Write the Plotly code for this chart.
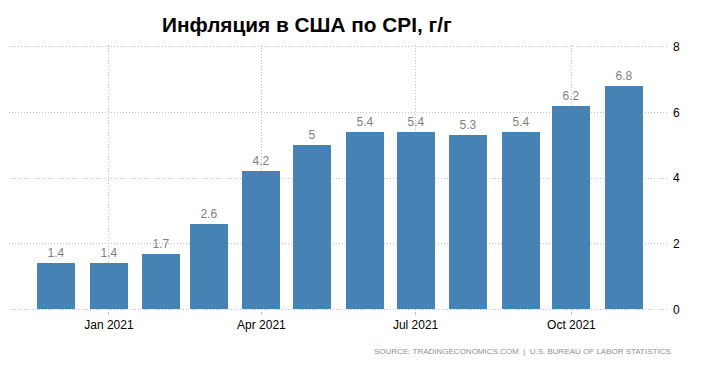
import plotly.graph_objects as go

months = ["2020-12-01", "2021-01-01", "2021-02-01", "2021-03-01", "2021-04-01", "2021-05-01",
          "2021-06-01", "2021-07-01", "2021-08-01", "2021-09-01", "2021-10-01", "2021-11-01"]
values = [1.4, 1.4, 1.7, 2.6, 4.2, 5, 5.4, 5.4, 5.3, 5.4, 6.2, 6.8]
labels = ["1.4", "1.4", "1.7", "2.6", "4.2", "5", "5.4", "5.4", "5.3", "5.4", "6.2", "6.8"]
tick_dates = ["2021-01-01", "2021-04-01", "2021-07-01", "2021-10-01"]
tick_labels = ["Jan 2021", "Apr 2021", "Jul 2021", "Oct 2021"]
y_ticks = [0, 2, 4, 6, 8]

DAY_MS = 86400000
FONT = "Liberation Sans, Arial, sans-serif"
GRID = "#c0c0c0"

fig = go.Figure()
fig.add_trace(go.Bar(
    x=months, y=values,
    width=[22.4 * DAY_MS] * len(months),
    marker=dict(color="#4682B4", line=dict(width=0)),
    text=labels, textposition="outside",
    textfont=dict(family=FONT, size=12, color="#7f7f7f"),
    cliponaxis=False,
    hoverinfo="skip",
))

fig.update_layout(
    width=702, height=376,
    margin=dict(l=9, r=34, t=45, b=65),
    paper_bgcolor="white", plot_bgcolor="white",
    showlegend=False,
    bargap=0,
    title=dict(
        text="<b>Инфляция в США по CPI, г/г</b>",
        font=dict(family=FONT, size=20.8, color="black"),
        x=0.437, xanchor="center", y=0.934, yanchor="middle",
    ),
    xaxis=dict(
        type="date",
        range=["2020-11-03", "2021-11-27"],
        tickvals=tick_dates, ticktext=tick_labels,
        showgrid=True, gridcolor=GRID, griddash="1px,2px", gridwidth=1,
        ticks="outside", ticklen=3, tickcolor=GRID,
        tickfont=dict(family=FONT, size=12, color="black"),
        showline=False, zeroline=False,
    ),
    yaxis=dict(
        range=[-0.05, 8.05], tickvals=y_ticks,
        side="right",
        showgrid=True, gridcolor=GRID, griddash="1px,2px", gridwidth=1,
        zeroline=False, showline=False,
        tickfont=dict(family=FONT, size=12, color="black"),
        ticklabelstandoff=4,
    ),
    annotations=[dict(
        text="SOURCE: TRADINGECONOMICS.COM  |  U.S. BUREAU OF LABOR STATISTICS",
        xref="paper", yref="paper", x=1.0076, y=-0.152, xanchor="right", yanchor="middle",
        showarrow=False,
        font=dict(family=FONT, size=8, color="#909090"),
    )],
)

fig.write_html("out.html", config={"displayModeBar": False},
               post_script="document.body.style.margin='0';")
